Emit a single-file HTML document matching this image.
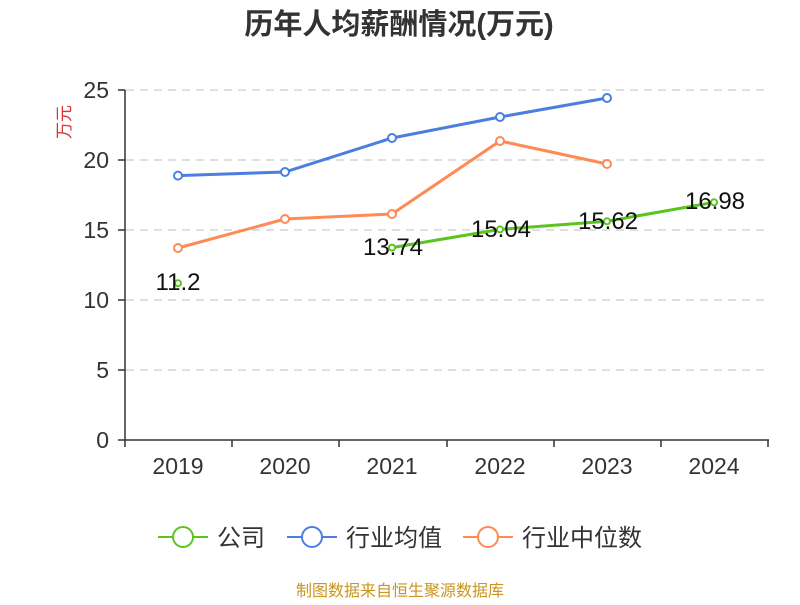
<!DOCTYPE html>
<html><head><meta charset="utf-8"><style>
body{margin:0;background:#fff;}
svg text{font-family:"Liberation Sans","Noto Sans CJK SC",sans-serif;}
</style></head><body>
<svg width="800" height="600" xmlns="http://www.w3.org/2000/svg">
<text x="399" y="34" text-anchor="middle" font-size="29" font-weight="bold" fill="#333">历年人均薪酬情况(万元)</text>
<text transform="translate(70,122) rotate(-90)" text-anchor="middle" font-size="17" fill="#e03030">万元</text>
<g stroke="#ccc" stroke-dasharray="8,6" stroke-width="1.3">
<line x1="126" x2="768" y1="90" y2="90"/><line x1="126" x2="768" y1="160" y2="160"/>
<line x1="126" x2="768" y1="230" y2="230"/><line x1="126" x2="768" y1="300" y2="300"/>
<line x1="126" x2="768" y1="370" y2="370"/></g>
<g stroke="#333" stroke-width="1.5">
<line x1="125" x2="125" y1="90" y2="440"/><line x1="125" x2="769" y1="440" y2="440"/>
<line x1="118" x2="125" y1="90" y2="90"/><line x1="118" x2="125" y1="160" y2="160"/><line x1="118" x2="125" y1="230" y2="230"/><line x1="118" x2="125" y1="300" y2="300"/><line x1="118" x2="125" y1="370" y2="370"/><line x1="118" x2="125" y1="440" y2="440"/>
<line x1="125" x2="125" y1="440" y2="447"/><line x1="232" x2="232" y1="440" y2="447"/><line x1="339" x2="339" y1="440" y2="447"/><line x1="447" x2="447" y1="440" y2="447"/><line x1="554" x2="554" y1="440" y2="447"/><line x1="661" x2="661" y1="440" y2="447"/><line x1="768" x2="768" y1="440" y2="447"/>
</g>
<g font-size="23" fill="#333" text-anchor="end">
<text x="109" y="98">25</text><text x="109" y="168">20</text><text x="109" y="238">15</text><text x="109" y="308">10</text><text x="109" y="378">5</text><text x="109" y="448">0</text></g>
<g font-size="23" fill="#333" text-anchor="middle">
<text x="178" y="474">2019</text><text x="285" y="474">2020</text><text x="392" y="474">2021</text><text x="500" y="474">2022</text><text x="607" y="474">2023</text><text x="714" y="474">2024</text></g>
<polyline fill="none" stroke="#4a7fe0" stroke-width="3" points="178,175.6 285,172 392,138 500,117 607,98"/>
<polyline fill="none" stroke="#ff8a55" stroke-width="3" points="178,248 285,219 392,214 500,141 607,164"/>
<polyline fill="none" stroke="#5ac421" stroke-width="3" points="392,247.6 500,229.4 607,221.3 714,202.3"/>
<g fill="#fff" stroke="#4a7fe0" stroke-width="2"><circle cx="178" cy="175.6" r="4"/><circle cx="285" cy="172" r="4"/><circle cx="392" cy="138" r="4"/><circle cx="500" cy="117" r="4"/><circle cx="607" cy="98" r="4"/></g>
<g fill="#fff" stroke="#ff8a55" stroke-width="2"><circle cx="178" cy="248" r="4"/><circle cx="285" cy="219" r="4"/><circle cx="392" cy="214" r="4"/><circle cx="500" cy="141" r="4"/><circle cx="607" cy="164" r="4"/></g>
<g fill="#fff" stroke="#5ac421" stroke-width="2"><circle cx="178" cy="283.2" r="3"/><circle cx="392" cy="247.6" r="3"/><circle cx="500" cy="229.4" r="3"/><circle cx="607" cy="221.3" r="3"/><circle cx="714" cy="202.3" r="3"/></g>
<g font-size="24" fill="#111" text-anchor="middle">
<text x="178" y="290">11.2</text><text x="393" y="255">13.74</text><text x="501" y="237">15.04</text><text x="608" y="229">15.62</text><text x="715" y="209">16.98</text></g>
<g stroke-width="2" fill="#fff">
<line x1="158" x2="208" y1="537" y2="537" stroke="#5ac421"/><circle cx="183" cy="537" r="10" stroke="#5ac421"/>
<line x1="287" x2="337" y1="537" y2="537" stroke="#4a7fe0"/><circle cx="312" cy="537" r="10" stroke="#4a7fe0"/>
<line x1="463" x2="513" y1="537" y2="537" stroke="#ff8a55"/><circle cx="488" cy="537" r="10" stroke="#ff8a55"/></g>
<g font-size="24" fill="#333"><text x="217" y="546">公司</text><text x="346" y="546">行业均值</text><text x="522" y="546">行业中位数</text></g>
<text x="400" y="596" text-anchor="middle" font-size="16" fill="#c8961e">制图数据来自恒生聚源数据库</text>
</svg>
</body></html>
